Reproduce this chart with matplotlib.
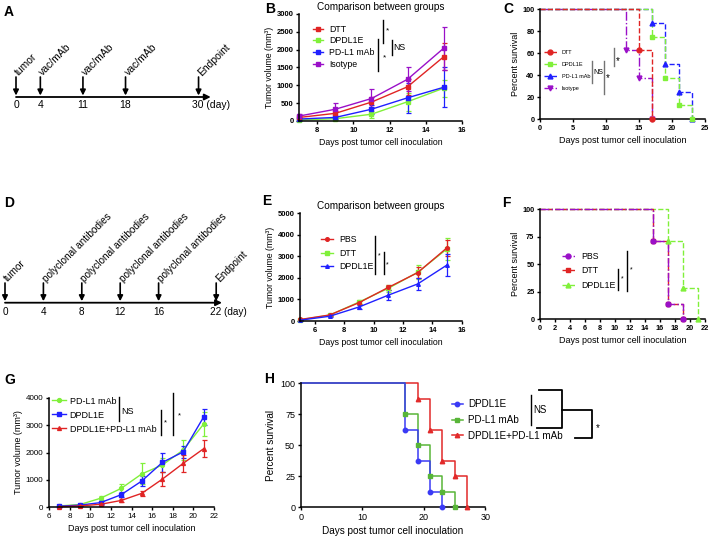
"""
Multi-panel figure: treatment schedules, tumor growth curves and survival.
"""
import matplotlib
matplotlib.use("Agg")
import matplotlib.pyplot as plt

plt.rcParams["font.family"] = ["Liberation Sans", "DejaVu Sans"]

W, H = 713, 541

RED = "#E02424"
GREEN = "#80F03A"
BLUE = "#2020FF"
PURPLE = "#9A10C8"

# ---- A: schedule
a_days = [0, 4, 11, 18, 30]
a_labels = ["tumor", "vac/mAb", "vac/mAb", "vac/mAb", "Endpoint"]

# ---- B: tumor volume
b_days = [7, 9, 11, 13, 15]
b_names = ["DTT", "DPDL1E", "PD-L1 mAb", "Isotype"]
b_dtt = [100, 215, 530, 960, 1800]
b_dtt_err = [40, 70, 140, 230, 380]
b_dpdl1e = [30, 65, 190, 540, 920]
b_dpdl1e_err = [20, 40, 100, 250, 240]
b_pdl1 = [55, 100, 330, 650, 945]
b_pdl1_err = [30, 50, 120, 420, 560]
b_iso = [140, 330, 630, 1170, 2040]
b_iso_err = [60, 180, 270, 330, 600]

# ---- C: survival
c_dtt_days = [0, 15, 17]
c_dtt_surv = [100, 62.5, 0]
c_dpdl1e_days = [0, 17, 19, 21, 23]
c_dpdl1e_surv = [100, 75, 37.5, 12.5, 0]
c_pdl1_days = [0, 17, 19, 21, 23]
c_pdl1_surv = [100, 87.5, 50, 25, 0]
c_iso_days = [0, 13, 15, 17]
c_iso_surv = [100, 62.5, 37.5, 0]

# ---- D: schedule
d_days = [0, 4, 8, 12, 16, 22]
d_labels = ["tumor"] + ["polyclonal antibodies"] * 4 + ["Endpoint"]

# ---- E: tumor volume
e_days = [5, 7, 9, 11, 13, 15]
e_names = ["PBS", "DTT", "DPDL1E"]
e_pbs = [70, 280, 850, 1560, 2245, 3400]
e_pbs_err = [30, 50, 80, 120, 250, 370]
e_dtt = [60, 270, 880, 1520, 2260, 3350]
e_dtt_err = [30, 50, 100, 170, 330, 520]
e_dpdl1e = [40, 220, 650, 1200, 1720, 2600]
e_dpdl1e_err = [20, 40, 80, 220, 290, 500]

# ---- F: survival
f_pbs_days = [0, 15, 17, 19]
f_pbs_surv = [100, 71.4, 14.3, 0]
f_dtt_days = [0, 15, 17, 19]
f_dtt_surv = [100, 71.4, 14.3, 0]
f_dpdl1e_days = [0, 17, 19, 21]
f_dpdl1e_surv = [100, 71.4, 28.6, 0]

# ---- G: tumor volume
g_days = [7, 9, 11, 13, 15, 17, 19, 21]
g_names = ["PD-L1 mAb", "DPDL1E", "DPDL1E+PD-L1 mAb"]
g_pdl1 = [50, 100, 330, 690, 1220, 1545, 2090, 3040]
g_pdl1_err = [20, 30, 80, 170, 380, 250, 380, 430]
g_dpdl1e = [40, 80, 170, 460, 960, 1640, 2020, 3300]
g_dpdl1e_err = [20, 30, 60, 100, 200, 350, 230, 280]
g_combo = [20, 50, 110, 250, 510, 1030, 1600, 2140]
g_combo_err = [10, 20, 40, 60, 100, 250, 320, 300]

# ---- H: survival
h_names = ["DPDL1E", "PD-L1 mAb", "DPDL1E+PD-L1 mAb"]
h_dpdl1e_days = [0, 17, 19, 21, 23]
h_dpdl1e_surv = [100, 62.5, 37.5, 12.5, 0]
h_pdl1_days = [0, 17, 19, 21, 23, 25]
h_pdl1_surv = [100, 75, 50, 25, 12.5, 0]
h_combo_days = [0, 19, 21, 23, 25, 27]
h_combo_surv = [100, 87.5, 62.5, 37.5, 25, 0]


def add_ax(fig, left, top, right, bottom):
    """Axes placed by pixel edges (measured from the top left)."""
    return fig.add_axes(
        [left / W, 1 - bottom / H, (right - left) / W, (bottom - top) / H]
    )


def prism(ax, size, bold=True):
    for side in ["top", "right"]:
        ax.spines[side].set_visible(False)
    for side in ["left", "bottom"]:
        ax.spines[side].set_linewidth(1.1)
    ax.tick_params(width=1.0, length=2.5, labelsize=size, pad=1.5)
    if bold:
        for lab in ax.get_xticklabels() + ax.get_yticklabels():
            lab.set_fontweight("bold")


def sig(ax, x, y0, y1, text, tx, ty, size, color="k", lw=1.0):
    ax.plot([x, x], [y0, y1], color=color, lw=lw,
            transform=ax.transAxes, clip_on=False)
    ax.text(tx, ty, text, transform=ax.transAxes, fontsize=size,
            ha="left", va="center")


def schedule(fig, top, days, labels, scale, offset, line_y, arrow_top,
             label_y, day_y, tip, size):
    ax = add_ax(fig, 0, top, 240, top + 170)
    ax.set_xlim((0 - offset) / scale, (240 - offset) / scale)
    ax.set_ylim(top + 170, top)
    ax.axis("off")
    ax.annotate("", xy=(tip, line_y), xytext=(days[0], line_y),
                arrowprops=dict(arrowstyle="-|>", lw=1.3, color="k",
                                mutation_scale=9, shrinkA=0, shrinkB=0))
    for i, (d, lab) in enumerate(zip(days, labels)):
        ax.annotate("", xy=(d, line_y - 1.5), xytext=(d, arrow_top),
                    arrowprops=dict(arrowstyle="-|>", lw=1.2, color="k",
                                    mutation_scale=8, shrinkA=0, shrinkB=0))
        ax.text(d + 1.0 / scale, label_y, lab, rotation=45, ha="left",
                va="center", rotation_mode="anchor", fontsize=size)
        if i == len(days) - 1:
            ax.text(d - 6.5 / scale, day_y, f"{d} (day)", ha="left",
                    va="center", fontsize=size)
        else:
            ax.text(d, day_y, str(d), ha="center", va="center", fontsize=size)


def survival(ax, days, surv, color, marker, ls, name, ms=3.5, lw=1.0):
    ax.step(days, surv, where="post", color=color, ls=ls, lw=lw,
            clip_on=False)
    ax.plot(days[1:], surv[1:], ls="none", marker=marker, color=color,
            ms=ms, clip_on=False, zorder=3)
    handle, = ax.plot([], [], color=color, ls=ls, lw=lw, marker=marker, ms=ms)
    handle.set_label(name)
    return handle


def growth(ax, days, vals, errs, color, marker, ms, name):
    cont = ax.errorbar(days, vals, yerr=errs, color=color, marker=marker,
                       ms=ms, lw=1.0, elinewidth=0.9, capsize=1.8,
                       capthick=0.9, clip_on=False, label=name)
    for art in cont.lines[1] + cont.lines[2]:
        art.set_clip_on(False)
    return cont[0]


def main():
    fig = plt.figure(figsize=(W / 100, H / 100), dpi=100)

    letters = {"A": (4, 12), "B": (265, 9), "C": (503, 9), "D": (4, 203),
               "E": (262, 201), "F": (502, 203), "G": (4, 380),
               "H": (264, 379)}
    for key, (x, y) in letters.items():
        fig.text(x / W, 1 - y / H, key, fontsize=10, fontweight="bold",
                 va="center", ha="left")

    # A
    schedule(fig, 0, a_days, a_labels, 6.085, 16, 97, 77, 74, 105, 32,
             7.5)
    # D
    schedule(fig, 170, d_days, d_labels, 9.6, 5, 302.7, 283, 280, 311.7,
             22.6, 7.2)

    # B
    ax = add_ax(fig, 299.3, 14, 461.7, 121)
    hb = [
        growth(ax, b_days, b_dpdl1e, b_dpdl1e_err, GREEN, "s", 3.5, b_names[1]),
        growth(ax, b_days, b_pdl1, b_pdl1_err, BLUE, "s", 3.5, b_names[2]),
        growth(ax, b_days, b_dtt, b_dtt_err, RED, "s", 3.5, b_names[0]),
        growth(ax, b_days, b_iso, b_iso_err, PURPLE, "s", 3.5, b_names[3]),
    ]
    hb = [hb[2], hb[0], hb[1], hb[3]]
    ax.set_xlim(7, 16)
    ax.set_ylim(0, 3000)
    ax.set_xticks([8, 10, 12, 14, 16])
    ax.set_yticks(range(0, 3001, 500))
    prism(ax, 5.5)
    ax.set_title("Comparison between groups", fontsize=7.2, pad=3)
    ax.set_xlabel("Days post tumor cell inoculation", fontsize=6.3,
                  labelpad=3)
    ax.set_ylabel("Tumor volume (mm³)", fontsize=6.3, labelpad=2)
    ax.legend(handles=hb, labels=b_names, loc="upper left",
              bbox_to_anchor=(0.085, 0.9), frameon=False, fontsize=6.3,
              handlelength=1.1, handletextpad=0.75, labelspacing=0.3,
              borderpad=0, borderaxespad=0)
    sig(ax, 0.513, 0.944, 0.729, "*", 0.535, 0.84, 6)
    sig(ax, 0.485, 0.766, 0.467, "*", 0.512, 0.59, 6)
    sig(ax, 0.569, 0.757, 0.617, "NS", 0.577, 0.685, 6.3)

    # C
    ax = add_ax(fig, 540, 9, 705, 119)
    hc = [
        survival(ax, c_iso_days, c_iso_surv, PURPLE, "v", "-.", "Isotype"),
        survival(ax, c_pdl1_days, c_pdl1_surv, BLUE, "^", "--", "PD-L1 mAb"),
        survival(ax, c_dpdl1e_days, c_dpdl1e_surv, GREEN, "s", "--",
                 "DPDL1E"),
        survival(ax, c_dtt_days, c_dtt_surv, RED, "o", "--", "DTT"),
    ]
    hc = hc[::-1]
    ax.set_xlim(0, 25)
    ax.set_ylim(0, 100)
    ax.set_xticks(range(0, 26, 5))
    ax.set_yticks(range(0, 101, 20))
    prism(ax, 5.3)
    ax.set_xlabel("Days post tumor cell inoculation", fontsize=6.5,
                  labelpad=3)
    ax.set_ylabel("Percent survival", fontsize=6.5, labelpad=2)
    ax.legend(handles=hc, loc="upper left", bbox_to_anchor=(0.024, 0.625),
              frameon=False, fontsize=4, handlelength=2.3,
              handletextpad=0.9, labelspacing=1.25, borderpad=0,
              borderaxespad=0)
    sig(ax, 0.317, 0.527, 0.327, "NS", 0.322, 0.425, 5, color="0.45")
    sig(ax, 0.388, 0.527, 0.227, "*", 0.4, 0.37, 7, color="0.45")
    sig(ax, 0.448, 0.645, 0.482, "*", 0.46, 0.53, 7, color="0.45")

    # E
    ax = add_ax(fig, 300.3, 213.3, 461.7, 321)
    he = [
        growth(ax, e_days, e_dtt, e_dtt_err, GREEN, "s", 2.6, e_names[1]),
        growth(ax, e_days, e_pbs, e_pbs_err, RED, "o", 2.6, e_names[0]),
        growth(ax, e_days, e_dpdl1e, e_dpdl1e_err, BLUE, "^", 2.6,
               e_names[2]),
    ]
    he = [he[1], he[0], he[2]]
    ax.set_xlim(5, 16)
    ax.set_ylim(0, 5000)
    ax.set_xticks([6, 8, 10, 12, 14, 16])
    ax.set_yticks(range(0, 5001, 1000))
    prism(ax, 5.5)
    ax.set_title("Comparison between groups", fontsize=7.2, pad=3)
    ax.set_xlabel("Days post tumor cell inoculation", fontsize=6.3,
                  labelpad=3)
    ax.set_ylabel("Tumor volume (mm³)", fontsize=6.3, labelpad=2)
    ax.legend(handles=he, labels=e_names, loc="upper left",
              bbox_to_anchor=(0.13, 0.8), frameon=False, fontsize=6.3,
              handlelength=1.3, handletextpad=0.75, labelspacing=0.55,
              borderpad=0, borderaxespad=0)
    sig(ax, 0.463, 0.789, 0.436, "*", 0.478, 0.6, 5)
    sig(ax, 0.519, 0.643, 0.436, "*", 0.532, 0.52, 5)

    # F
    ax = add_ax(fig, 540, 209.3, 705, 319.3)
    hf = [
        survival(ax, f_dpdl1e_days, f_dpdl1e_surv, GREEN, "^", "--",
                 "DPDL1E"),
        survival(ax, f_dtt_days, f_dtt_surv, RED, "s", "--", "DTT"),
        survival(ax, f_pbs_days, f_pbs_surv, PURPLE, "o", "-.", "PBS"),
    ]
    hf = hf[::-1]
    ax.set_xlim(0, 22)
    ax.set_ylim(0, 100)
    ax.set_xticks(range(0, 23, 2))
    ax.set_yticks(range(0, 101, 25))
    prism(ax, 5.3)
    ax.set_xlabel("Days post tumor cell inoculation", fontsize=6.5,
                  labelpad=3)
    ax.set_ylabel("Percent survival", fontsize=6.5, labelpad=2)
    ax.legend(handles=hf, loc="upper left", bbox_to_anchor=(0.135, 0.61),
              frameon=False, fontsize=6.3, handlelength=1.4,
              handletextpad=0.8, labelspacing=0.6, borderpad=0,
              borderaxespad=0)
    sig(ax, 0.475, 0.457, 0.266, "*", 0.488, 0.37, 5)
    sig(ax, 0.529, 0.621, 0.26, "*", 0.542, 0.45, 5)

    # G
    ax = add_ax(fig, 49, 397.7, 214, 507.3)
    hg = [
        growth(ax, g_days, g_pdl1, g_pdl1_err, GREEN, "o", 2.8, g_names[0]),
        growth(ax, g_days, g_dpdl1e, g_dpdl1e_err, BLUE, "s", 2.8,
               g_names[1]),
        growth(ax, g_days, g_combo, g_combo_err, RED, "^", 2.8, g_names[2]),
    ]
    ax.set_xlim(6, 22)
    ax.set_ylim(0, 4000)
    ax.set_xticks(range(6, 23, 2))
    ax.set_yticks(range(0, 4001, 1000))
    prism(ax, 5.8, bold=False)
    ax.set_xlabel("Days post tumor cell inoculation", fontsize=6.5,
                  labelpad=3)
    ax.set_ylabel("Tumor volume (mm³)", fontsize=6.5, labelpad=2)
    ax.legend(handles=hg, labels=g_names, loc="upper left",
              bbox_to_anchor=(0.016, 1.01), frameon=False, fontsize=6.5,
              handlelength=1.6, handletextpad=0.4, labelspacing=0.55,
              borderpad=0, borderaxespad=0)
    sig(ax, 0.426, 1.009, 0.787, "NS", 0.436, 0.875, 6.5)
    sig(ax, 0.679, 0.888, 0.66, "*", 0.697, 0.77, 5.5)
    sig(ax, 0.75, 1.046, 0.66, "*", 0.78, 0.83, 5.5)

    # H
    ax = add_ax(fig, 300.7, 383.3, 485.3, 507.3)
    hh3 = survival(ax, h_combo_days, h_combo_surv, "#E22A2A", "^", "-",
                   h_names[2], ms=3.2, lw=1.1)
    hh2 = survival(ax, h_pdl1_days, h_pdl1_surv, "#58B538", "s", "-",
                   h_names[1], ms=3.2, lw=1.1)
    hh1 = survival(ax, h_dpdl1e_days, h_dpdl1e_surv, "#3A3AF5", "o", "-",
                   h_names[0], ms=3.2, lw=1.1)
    ax.set_xlim(0, 30)
    ax.set_ylim(0, 100)
    ax.set_xticks([0, 10, 20, 30])
    ax.set_yticks(range(0, 101, 25))
    prism(ax, 6.5, bold=False)
    ax.set_xlabel("Days post tumor cell inoculation", fontsize=7.2,
                  labelpad=3)
    ax.set_ylabel("Percent survival", fontsize=7.2, labelpad=3)
    ax.legend(handles=[hh1, hh2, hh3], loc="upper left",
              bbox_to_anchor=(0.82, 0.87), frameon=False, fontsize=7.1,
              handlelength=1.1, handletextpad=0.5, labelspacing=0.57,
              borderpad=0, borderaxespad=0)
    sig(ax, 1.246, 0.906, 0.664, "NS", 1.262, 0.785, 7)
    tr = ax.transAxes
    ax.plot([1.29, 1.414, 1.414, 1.278], [0.946, 0.946, 0.642, 0.642],
            color="k", lw=1.3, transform=tr, clip_on=False)
    ax.plot([1.414, 1.576, 1.576, 1.486], [0.785, 0.785, 0.556, 0.556],
            color="k", lw=1.3, transform=tr, clip_on=False)
    ax.text(1.598, 0.64, "*", transform=tr, fontsize=7, ha="left",
            va="center")

    fig.savefig("out.png", dpi=100)


if __name__ == "__main__":
    main()
